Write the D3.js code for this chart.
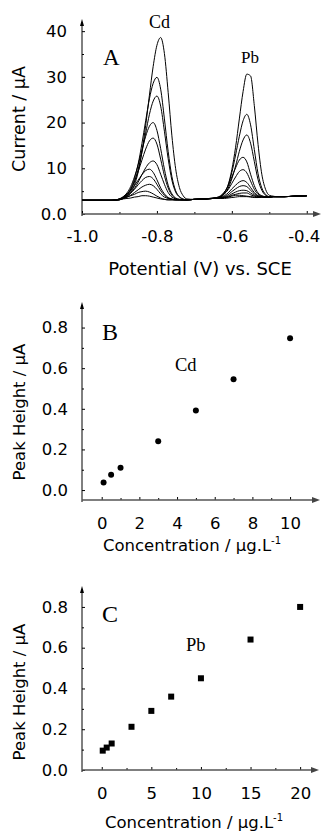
<!DOCTYPE html>
<html><head><meta charset="utf-8">
<script src="https://cdn.jsdelivr.net/npm/d3@7"></script>
<style>body{margin:0;background:#fff} svg{display:block}</style>
</head><body><svg id="c" width="321" height="835"></svg>
<script>
// ---------- Panel A: stripping voltammograms ----------
const potentials = [-1.00,-0.95,-0.92,-0.91,-0.90,-0.89,-0.88,-0.87,-0.86,-0.85,-0.84,-0.83,-0.82,-0.81,-0.80,-0.79,-0.78,-0.77,-0.76,-0.75,-0.74,-0.73,-0.72,-0.70,-0.67,-0.65,-0.64,-0.63,-0.62,-0.61,-0.60,-0.59,-0.58,-0.57,-0.56,-0.55,-0.54,-0.53,-0.52,-0.51,-0.50,-0.49,-0.48,-0.46,-0.43,-0.40];
const trace1  = [3.0,3.0,3.0,3.0,3.1,3.4,3.8,4.7,6.3,9.2,13.6,19.4,26.0,32.3,36.9,38.6,35.1,26.6,17.1,9.9,5.8,4.0,3.3,3.2,3.3,3.4,3.5,3.8,4.6,6.3,9.7,14.6,20.8,26.8,30.6,30.2,23.7,15.2,8.7,5.4,4.1,3.9,3.8,3.8,3.9,4.0];
const trace2  = [3.0,3.0,3.0,3.1,3.2,3.6,4.3,5.5,7.7,11.0,15.4,20.4,25.2,28.6,29.9,27.3,20.8,13.7,8.2,5.1,3.8,3.3,3.1,3.2,3.3,3.4,3.6,3.9,4.7,6.3,9.1,12.9,17.0,20.4,21.8,19.5,14.1,8.8,5.7,4.3,3.8,3.8,3.8,3.8,3.9,4.0];
const trace3  = [3.0,3.0,3.0,3.1,3.2,3.5,4.1,5.2,7.0,9.8,13.5,17.7,21.8,24.7,25.8,23.6,18.1,12.1,7.4,4.8,3.7,3.2,3.1,3.2,3.3,3.4,3.5,3.8,4.4,5.6,7.7,10.5,13.7,16.2,17.3,15.5,11.5,7.5,5.2,4.1,3.8,3.8,3.8,3.8,3.9,4.0];
const trace4  = [3.0,3.0,3.0,3.1,3.3,3.8,4.6,6.0,8.1,10.8,14.0,17.0,19.2,20.0,18.3,14.3,9.8,6.3,4.4,3.5,3.2,3.1,3.1,3.2,3.3,3.5,3.6,4.0,4.8,6.1,8.1,10.1,11.8,12.4,11.4,8.7,6.2,4.6,4.0,3.8,3.7,3.8,3.8,3.8,3.9,4.0];
const trace5  = [3.0,3.0,3.0,3.1,3.3,3.7,4.3,5.4,7.1,9.3,11.8,14.2,16.0,16.6,15.3,12.0,8.4,5.7,4.1,3.4,3.2,3.1,3.1,3.2,3.3,3.5,3.6,3.8,4.4,5.3,6.7,8.1,9.3,9.7,9.0,7.2,5.4,4.3,3.9,3.7,3.7,3.8,3.8,3.8,3.9,4.0];
const trace6  = [3.0,3.0,3.0,3.1,3.2,3.5,3.9,4.6,5.6,7.0,8.6,10.1,11.2,11.6,10.8,8.7,6.5,4.7,3.7,3.3,3.1,3.1,3.1,3.2,3.3,3.4,3.5,3.7,4.0,4.6,5.5,6.3,7.0,7.3,6.9,5.8,4.7,4.0,3.8,3.7,3.7,3.8,3.8,3.8,3.9,4.0];
const trace7  = [3.0,3.0,3.0,3.1,3.3,3.7,4.3,5.1,6.2,7.4,8.6,9.5,9.8,9.1,7.5,5.7,4.4,3.6,3.3,3.1,3.1,3.1,3.1,3.2,3.3,3.4,3.4,3.6,3.8,4.2,4.9,5.5,6.0,6.2,6.0,5.2,4.4,3.9,3.8,3.7,3.7,3.8,3.8,3.8,3.9,4.0];
const trace8  = [3.0,3.0,3.0,3.1,3.2,3.6,4.0,4.6,5.4,6.4,7.3,8.0,8.2,7.7,6.5,5.1,4.1,3.5,3.2,3.1,3.1,3.1,3.1,3.2,3.3,3.4,3.4,3.5,3.7,3.9,4.4,4.8,5.1,5.2,5.1,4.6,4.1,3.8,3.8,3.7,3.7,3.8,3.8,3.8,3.9,4.0];
const trace9  = [3.0,3.0,3.0,3.0,3.1,3.4,3.7,4.1,4.7,5.3,5.9,6.3,6.5,6.2,5.4,4.4,3.7,3.4,3.2,3.1,3.1,3.1,3.1,3.2,3.3,3.4,3.4,3.5,3.6,3.7,4.1,4.3,4.5,4.6,4.6,4.2,3.9,3.7,3.7,3.7,3.7,3.8,3.8,3.8,3.9,4.0];
const trace10 = [3.0,3.0,3.0,3.1,3.2,3.4,3.7,4.0,4.3,4.7,4.9,5.0,4.8,4.4,3.9,3.5,3.2,3.1,3.1,3.1,3.1,3.1,3.1,3.2,3.3,3.4,3.4,3.5,3.6,3.7,3.9,4.1,4.1,4.0,3.9,3.8,3.7,3.6,3.7,3.7,3.7,3.8,3.8,3.8,3.9,4.0];
const trace11 = [3.0,3.0,3.0,3.0,3.1,3.3,3.4,3.5,3.7,3.8,4.0,4.0,3.9,3.7,3.5,3.3,3.2,3.1,3.1,3.1,3.1,3.1,3.1,3.2,3.3,3.4,3.4,3.4,3.4,3.5,3.6,3.7,3.8,3.8,3.8,3.7,3.6,3.6,3.7,3.7,3.7,3.8,3.8,3.8,3.9,4.0];
const traces = [trace1,trace2,trace3,trace4,trace5,trace6,trace7,trace8,trace9,trace10,trace11];

const aXTicks = [-1.0,-0.8,-0.6,-0.4];
const aXLabels = ["-1.0","-0.8","-0.6","-0.4"];
const aXMinor = [-0.9,-0.7,-0.5];
const aYTicks = [0,10,20,30,40];
const aYLabels = ["0.0","10","20","30","40"];
const aYMinor = [5,15,25,35];

// ---------- Panel B: Cd calibration ----------
const cdConc = [0.1,0.5,1,3,5,7,10];
const cdPeak = [0.037,0.075,0.11,0.24,0.392,0.546,0.747];
const bXTicks = [0,2,4,6,8,10];
const bXLabels = ["0","2","4","6","8","10"];
const bXMinor = [1,3,5,7,9];
const bYTicks = [0,0.2,0.4,0.6,0.8];
const bYLabels = ["0.0","0.2","0.4","0.6","0.8"];
const bYMinor = [0.1,0.3,0.5,0.7];

// ---------- Panel C: Pb calibration ----------
const pbConc = [0.1,0.5,1,3,5,7,10,15,20];
const pbPeak = [0.095,0.11,0.13,0.212,0.29,0.36,0.45,0.64,0.80];
const cXTicks = [0,5,10,15,20];
const cXLabels = ["0","5","10","15","20"];
const cXMinor = [2.5,7.5,12.5,17.5];
const cYTicks = [0,0.2,0.4,0.6,0.8];
const cYLabels = ["0.0","0.2","0.4","0.6","0.8"];
const cYMinor = [0.1,0.3,0.5,0.7];

const SANS = "'DejaVu Sans', sans-serif";
const SERIF = "'Liberation Serif', 'Times New Roman', serif";
const svg = d3.select("#c");

function drawAxes(x, y, axisY, o) {
  const x0 = x.range()[0], xR = x.range()[1], yT = y.range()[1];
  const g = svg.append("g");
  // y axis (ticks inward)
  g.append("g").attr("transform", `translate(${x0},0)`)
    .call(d3.axisLeft(y).tickValues(o.yTicks).tickFormat((d,i)=>o.yLabels[i])
      .tickSizeInner(-3).tickSizeOuter(0).tickPadding(o.yPad))
    .call(s => s.select(".domain").remove())
    .call(s => s.selectAll("text").attr("font-family", SANS).attr("font-size", o.fs).attr("fill","#000"));
  g.append("g").attr("transform", `translate(${x0},0)`)
    .call(d3.axisLeft(y).tickValues(o.yMinor).tickFormat("").tickSizeInner(-2).tickSizeOuter(0))
    .call(s => s.select(".domain").remove());
  // x axis
  const xg = g.append("g").attr("transform", `translate(0,${axisY})`)
    .call(d3.axisBottom(x).tickValues(o.xTicks).tickFormat((d,i)=>o.xLabels[i])
      .tickSizeInner(-3).tickSizeOuter(0).tickPadding(o.xPad))
    .call(s => s.select(".domain").remove())
    .call(s => s.selectAll("text").attr("font-family", SANS).attr("font-size", o.fs).attr("fill","#000"));
  if (o.lastDx) xg.selectAll(".tick text").filter((d,i,n)=>i===n.length-1).attr("dx", o.lastDx);
  g.append("g").attr("transform", `translate(0,${axisY})`)
    .call(d3.axisBottom(x).tickValues(o.xMinor).tickFormat("").tickSizeInner(-2).tickSizeOuter(0))
    .call(s => s.select(".domain").remove());
  g.selectAll(".tick line").attr("stroke", "#000");
  // axis lines with arrows
  g.append("line").attr("x1", x0).attr("x2", x0).attr("y1", axisY + 2).attr("y2", yT)
    .attr("stroke", "#000").attr("stroke-width", 1);
  g.append("path").attr("d", `M${x0},${yT-3}L${x0-2},${yT+4}L${x0+2},${yT+4}Z`).attr("fill", "#000");
  g.append("line").attr("x1", x0).attr("x2", xR).attr("y1", axisY).attr("y2", axisY)
    .attr("stroke", "#555").attr("stroke-width", 1.4);
  g.append("path").attr("d", `M${xR+3},${axisY}L${xR-5},${axisY-3}L${xR-5},${axisY+3}Z`).attr("fill", "#444");
  return g;
}

function label(x, y, txt, o) {
  const t = svg.append("text").attr("x", x).attr("y", y).text(txt)
    .attr("font-family", o.serif ? SERIF : SANS).attr("font-size", o.fs)
    .attr("text-anchor", o.anchor || "start").attr("fill", "#000");
  if (o.rot) t.attr("transform", `rotate(-90,${x},${y})`);
  return t;
}

// ----- Panel A -----
const xA = d3.scaleLinear().domain([-1.0, -0.37]).range([82, 318]);
const yA = d3.scaleLinear().domain([0, 42]).range([214, 22]);
const lineA = d3.line().x((d,i)=>xA(potentials[i])).y(d=>yA(d)).curve(d3.curveMonotoneX);
svg.append("g").selectAll("path").data(traces).join("path")
  .attr("d", lineA).attr("fill", "none").attr("stroke", "#000").attr("stroke-width", 1);
drawAxes(xA, yA, yA(0), {xTicks:aXTicks, xLabels:aXLabels, xMinor:aXMinor, yTicks:aYTicks, yLabels:aYLabels, yMinor:aYMinor, xPad:16, yPad:15, fs:16.5, lastDx:-3});
label(200, 275, "Potential (V) vs. SCE", {fs:18, anchor:"middle"});
label(25, 119, "Current / μA", {fs:17.5, anchor:"middle", rot:true});
label(103, 65, "A", {fs:23, serif:true});
label(149, 28, "Cd", {fs:18, serif:true});
label(241, 63, "Pb", {fs:17, serif:true});

// ----- Panel B -----
const xB = d3.scaleLinear().domain([-1.046, 11.43]).range([82, 317]);
const yB = d3.scaleLinear().domain([-0.049, 0.911]).range([500, 305]);
svg.append("g").selectAll("circle").data(cdConc).join("circle")
  .attr("cx", d=>xB(d)).attr("cy", (d,i)=>yB(cdPeak[i])).attr("r", 3).attr("fill", "#000");
drawAxes(xB, yB, yB(-0.049), {xTicks:bXTicks, xLabels:bXLabels, xMinor:bXMinor, yTicks:bYTicks, yLabels:bYLabels, yMinor:bYMinor, xPad:17, yPad:14, fs:16.5});
const tB = label(192, 551, "Concentration / μg.L", {fs:16.5, anchor:"middle"});
tB.append("tspan").attr("font-size", 10).attr("dy", -7).text("-1");
label(25, 412, "Peak Height / μA", {fs:16.5, anchor:"middle", rot:true});
label(102, 340, "B", {fs:24, serif:true});
label(175, 370.5, "Cd", {fs:18.5, serif:true});

// ----- Panel C -----
const xC = d3.scaleLinear().domain([-1.99, 21.6]).range([82, 316]);
const yC = d3.scaleLinear().domain([0, 0.888]).range([770, 589]);
svg.append("g").selectAll("rect").data(pbConc).join("rect")
  .attr("x", d=>xC(d)-3).attr("y", (d,i)=>yC(pbPeak[i])-3).attr("width", 6).attr("height", 6).attr("fill", "#000");
drawAxes(xC, yC, yC(0), {xTicks:cXTicks, xLabels:cXLabels, xMinor:cXMinor, yTicks:cYTicks, yLabels:cYLabels, yMinor:cYMinor, xPad:17, yPad:14, fs:16.5});
const tC = label(194, 828, "Concentration / μg.L", {fs:16.5, anchor:"middle"});
tC.append("tspan").attr("font-size", 10).attr("dy", -7).text("-1");
label(25, 692, "Peak Height / μA", {fs:16.5, anchor:"middle", rot:true});
label(102, 621.5, "C", {fs:24, serif:true});
label(186, 650.5, "Pb", {fs:18.5, serif:true});
</script></body></html>
